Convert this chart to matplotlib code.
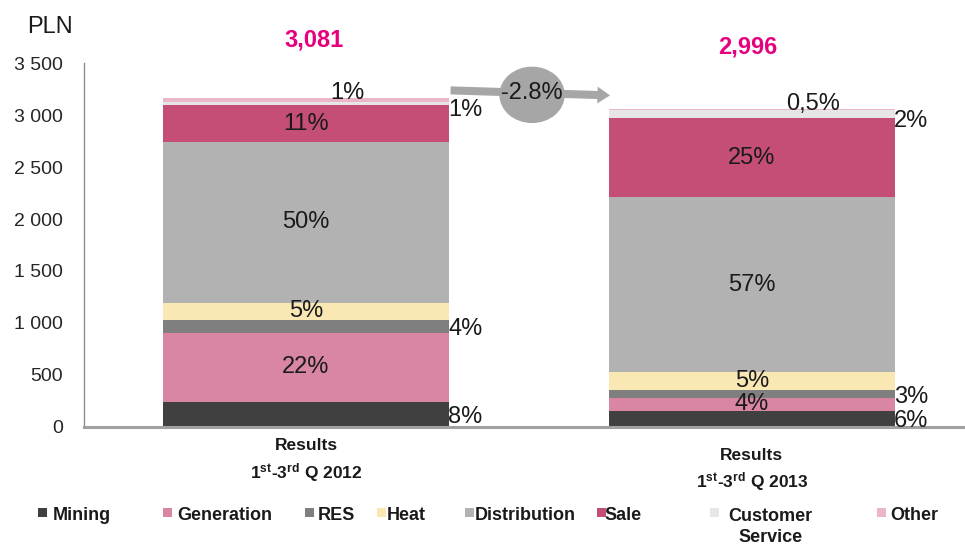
import matplotlib
matplotlib.use('Agg')
import matplotlib.pyplot as plt
from matplotlib.patches import Ellipse, Rectangle

plt.rcParams['font.family'] = ['Liberation Sans', 'DejaVu Sans']
plt.rcParams['mathtext.fontset'] = 'custom'
plt.rcParams['mathtext.rm'] = 'Liberation Sans'
plt.rcParams['mathtext.bf'] = 'Liberation Sans:bold'
plt.rcParams['mathtext.it'] = 'Liberation Sans:italic'

# data
segments = ['Mining', 'Generation', 'RES', 'Heat', 'Distribution', 'Sale',
            'Customer\nService', 'Other']
vals_2012 = [240, 665, 125, 160, 1555, 350, 35, 35]
vals_2013 = [155, 122, 80, 167, 1690, 755, 80, 10]
pct_2012 = ['8%', '22%', '4%', '5%', '50%', '11%', '1%', '1%']
pct_2013 = ['6%', '4%', '3%', '5%', '57%', '25%', '2%', '0,5%']
totals = ['3,081', '2,996']
change = '-2.8%'
periods = [r'$\mathbf{1^{st}}$-$\mathbf{3^{rd}}$ Q 2012',
           r'$\mathbf{1^{st}}$-$\mathbf{3^{rd}}$ Q 2013']
yticks = [0, 500, 1000, 1500, 2000, 2500, 3000, 3500]

colors = ['#404040', '#D886A4', '#7F7F7F', '#FAE8B4', '#B2B2B2', '#C44E76',
          '#E6E6E6', '#EBB6C9']
# where each percentage label sits: inside, right of bar, above bar
modes = ['out', 'in', 'out', 'in', 'in', 'in', 'out', 'top']

W, H = 965, 546
fig = plt.figure(figsize=(W / 100, H / 100), dpi=100)
ax = fig.add_axes([84 / W, (H - 426.7) / H, 1 - 84 / W, 363.4 / H])
ax.set_ylim(0, 3500)
ax.set_xlim(-0.498, 1.478)

bw = 0.641
txt = '#1a1a1a'
for i, (vals, pcts) in enumerate([(vals_2012, pct_2012), (vals_2013, pct_2013)]):
    bottom = 0
    for j, v in enumerate(vals):
        ax.bar(i, v, bw, bottom=bottom, color=colors[j], linewidth=0)
        m = modes[j]
        yc = bottom + v / 2
        if m == 'in':
            ax.text(i, yc, pcts[j], ha='center', va='center', fontsize=17, color=txt)
        elif m == 'out':
            dy = -4.5 if j == 6 else -2
            ax.annotate(pcts[j], (i + bw / 2, yc), xytext=(-0.5, dy),
                        textcoords='offset points', ha='left', va='center',
                        fontsize=17, color=txt, annotation_clip=False)
        else:
            dx = [30, 44][i]
            ax.annotate(pcts[j], (i, bottom + v), xytext=(dx, 4),
                        textcoords='offset points', ha='center', va='center',
                        fontsize=17, color=txt, annotation_clip=False)
        bottom += v

# totals above bars
for i, t in enumerate(totals):
    dx = [6, -3][i]
    ax.annotate(t, (i, 3500), xytext=(dx, [17, 12][i]), textcoords='offset points',
                ha='center', va='center', fontsize=17, fontweight='bold',
                color='#E6007E', annotation_clip=False)

# change arrow with bubble
ax.annotate('', xy=(0.688, 3190), xytext=(0.318, 3240),
            arrowprops=dict(arrowstyle='simple,head_length=9,head_width=12,tail_width=5.8',
                            mutation_scale=1, color='#A6A6A6', lw=0),
            annotation_clip=False)
ax.add_patch(Ellipse((0.507, 3196), 0.1435, 530, color='#A6A6A6', clip_on=False, zorder=3))
ax.text(0.507, 3215, change, ha='center', va='center', fontsize=17, color=txt, zorder=4)

# category labels
for i, p in enumerate(periods):
    y1, y2 = [(446, 473), (456, 482)][i]
    xf = ax.transData.transform((i, 0))[0] / W
    fig.text(xf, 1 - y1 / H, 'Results', ha='center', va='center',
             fontsize=12.5, fontweight='bold', color=txt)
    fig.text(xf, 1 - y2 / H, p, ha='center', va='center',
             fontsize=12.5, fontweight='bold', color=txt)

ax.set_yticks(yticks)
ax.set_yticklabels([f'{v:,}'.replace(',', ' ') for v in yticks], fontsize=14, color='#262626')
ax.tick_params(axis='y', length=0, pad=15)
ax.set_xticks([])
for s in ['top', 'right']:
    ax.spines[s].set_visible(False)
ax.spines['left'].set_color('#8C8C8C')
ax.spines['left'].set_linewidth(1)
ax.spines['bottom'].set_color('#A0A0A0')
ax.spines['bottom'].set_linewidth(2.2)

fig.text(27 / W, 1 - 27 / H, 'PLN', ha='left', va='center', fontsize=17, color=txt)

# legend
sq_x = [38, 163, 305, 377, 465, 597, 710, 877]
tx_x = [53, 177, 318, 387, 475, 604, 728, 890]
ly = 515
for j, name in enumerate(segments):
    fig.patches.append(Rectangle((sq_x[j] / W, 1 - (ly + 2) / H), 9 / W, 9 / H,
                                 transform=fig.transFigure, color=colors[j], lw=0))
    yy = ly if '\n' not in name else ly + 12
    fig.text(tx_x[j] / W, 1 - yy / H, name, ha='left', va='center',
             multialignment='center', fontsize=13, fontweight='bold', color=txt,
             linespacing=1.35)

fig.savefig('out.png', dpi=100)
